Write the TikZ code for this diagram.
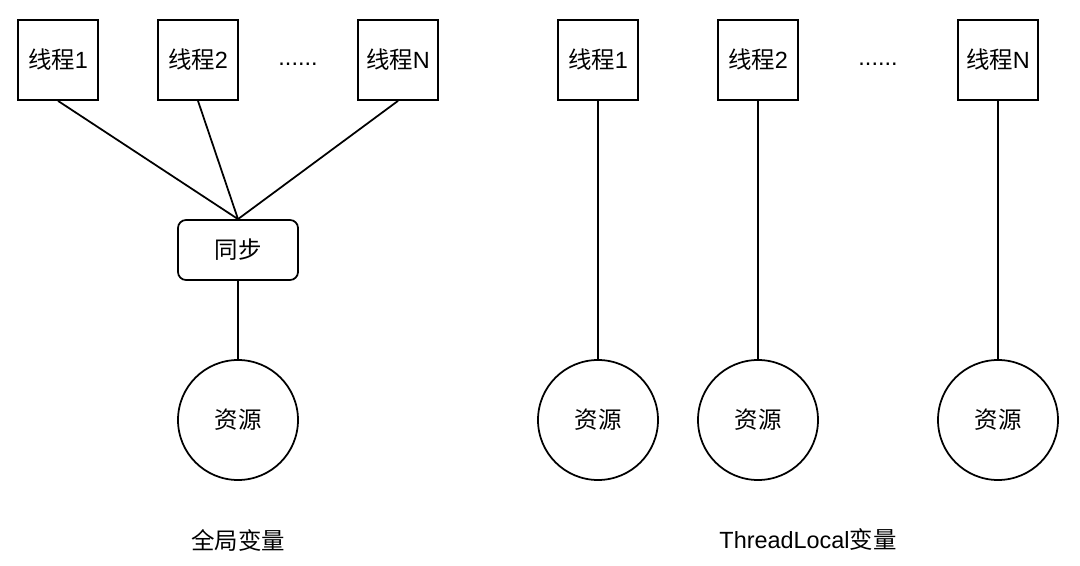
\documentclass[tikz,border=0pt]{standalone}
\usepackage{fontspec}
\setmainfont{Liberation Sans}
\newfontfamily\cjk{Noto Sans CJK SC}
\usetikzlibrary{positioning}

\newcommand{\zh}[1]{{\cjk #1}}

\begin{document}
\begin{tikzpicture}[x=0.03cm, y=-0.03cm, line width=1.5pt,
  every node/.style={font=\fontsize{20}{24}\selectfont},
  thread/.style={draw, minimum size=2.4cm, inner sep=0pt},
  syncbox/.style={draw, rounded corners=0.24cm, minimum width=3.6cm, minimum height=1.8cm, inner sep=0pt},
  res/.style={draw, circle, minimum size=3.6cm, inner sep=0pt}]
\useasboundingbox (0,0) rectangle (1080,566);
% global variable side
\node[thread] (t1) at (58,60) {\zh{线程}1};
\node[thread] (t2) at (198,60) {\zh{线程}2};
\node (dots1) at (298,64) {......};
\node[thread] (tn) at (398,60) {\zh{线程}N};
\node[syncbox] (sync) at (238,250) {\zh{同步}};
\node[res] (res) at (238,420) {\zh{资源}};
\draw (t1.south) -- (sync.north);
\draw (t2.south) -- (sync.north);
\draw (tn.south) -- (sync.north);
\draw (sync) -- (res);
\node (global) at (238,540) {\zh{全局变量}};
% threadlocal side
\node[thread] (r1) at (598,60) {\zh{线程}1};
\node[thread] (r2) at (758,60) {\zh{线程}2};
\node (dots2) at (878,64) {......};
\node[thread] (rn) at (998,60) {\zh{线程}N};
\node[res] (c1) at (598,420) {\zh{资源}};
\node[res] (c2) at (758,420) {\zh{资源}};
\node[res] (cn) at (998,420) {\zh{资源}};
\draw (r1) -- (c1);
\draw (r2) -- (c2);
\draw (rn) -- (cn);
\node (local) at (808,540) {ThreadLocal\zh{变量}};
\end{tikzpicture}
\end{document}
